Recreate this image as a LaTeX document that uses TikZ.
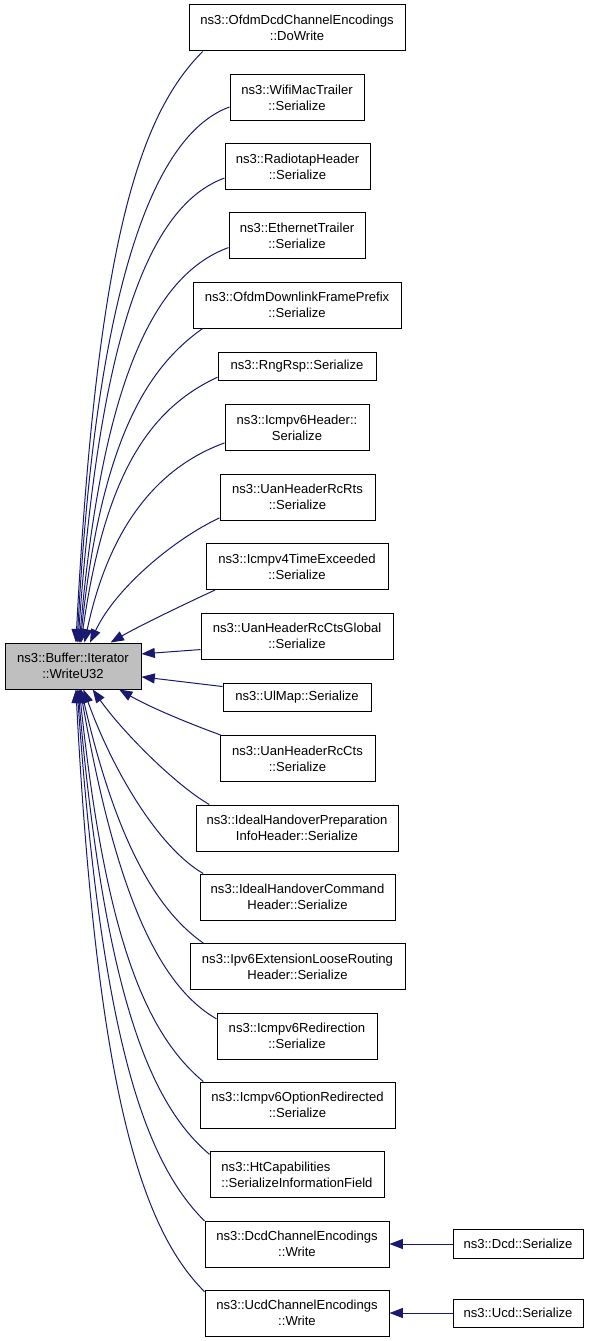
\documentclass[tikz,border=0pt]{standalone}
\usepackage{fontspec}
\setmainfont{Liberation Sans}
\usepackage{tikz}
\usepackage{xcolor}
\usetikzlibrary{shapes, arrows.meta}

\definecolor{edgeblue}{HTML}{191970}
\definecolor{callee}{HTML}{BFBFBF}

\begin{document}
\begin{tikzpicture}[x=0.75pt, y=0.75pt,
        box/.style={draw=black, fill=white, line width=0.75pt, inner sep=1pt,
            minimum width={#1*0.75pt}, minimum height=34.5pt, align=center,
            font=\fontsize{9.8pt}{12pt}\selectfont},
        edge/.style={-{Triangle[length=10pt, width=7.5pt]}, draw=edgeblue, line width=0.75pt}]
        \useasboundingbox (0,0) rectangle (592,-1341);

        \node[box=136, fill=callee] (buf) at (73,-666) {ns3::Buffer::Iterator\\::WriteU32};

        \node[box=216] (ofdmdcd) at (297,-28) {ns3::OfdmDcdChannelEncodings\\::DoWrite};
        \node[box=134] (wifi) at (297,-97.5) {ns3::WifiMacTrailer\\::Serialize};
        \node[box=145] (radiotap) at (297.5,-166.5) {ns3::RadiotapHeader\\::Serialize};
        \node[box=136] (ethernet) at (297,-235.5) {ns3::EthernetTrailer\\::Serialize};
        \node[box=208] (ofdmdl) at (297,-305) {ns3::OfdmDownlinkFramePrefix\\::Serialize};
        \node[box=158, minimum height=21pt] (rngrsp) at (297,-366) {ns3::RngRsp::Serialize};
        \node[box=144] (icmpv6h) at (297,-427.5) {ns3::Icmpv6Header::\\Serialize};
        \node[box=155] (uanrts) at (297.5,-497) {ns3::UanHeaderRcRts\\::Serialize};
        \node[box=182] (icmpv4) at (297,-566.5) {ns3::Icmpv4TimeExceeded\\::Serialize};
        \node[box=192] (uanglobal) at (297,-636) {ns3::UanHeaderRcCtsGlobal\\::Serialize};
        \node[box=148, minimum height=21pt] (ulmap) at (297,-697) {ns3::UlMap::Serialize};
        \node[box=155] (uancts) at (297.5,-758.5) {ns3::UanHeaderRcCts\\::Serialize};
        \node[box=202] (ihprep) at (297,-828) {ns3::IdealHandoverPreparation\\InfoHeader::Serialize};
        \node[box=195] (ihcmd) at (297.5,-897) {ns3::IdealHandoverCommand\\Header::Serialize};
        \node[box=215] (ipv6loose) at (297.5,-966.5) {ns3::Ipv6ExtensionLooseRouting\\Header::Serialize};
        \node[box=160] (icmpv6redir) at (297,-1036) {ns3::Icmpv6Redirection\\::Serialize};
        \node[box=195] (icmpv6opt) at (297.5,-1105) {ns3::Icmpv6OptionRedirected\\::Serialize};
        \node[box=174, align=left] (htcap) at (297,-1174.5) {ns3::HtCapabilities\\::SerializeInformationField};
        \node[box=184] (dcdch) at (297,-1244) {ns3::DcdChannelEncodings\\::Write};
        \node[box=184] (ucdch) at (297,-1313) {ns3::UcdChannelEncodings\\::Write};

        \node[box=130, minimum height=21.5pt] (dcd) at (518,-1244) {ns3::Dcd::Serialize};
        \node[box=130, minimum height=21pt] (ucd) at (518,-1313) {ns3::Ucd::Serialize};

        % callers above
        \draw[edge] (ofdmdcd.194) .. controls +(225:90) and +(87:400) .. (buf.83);
        \draw[edge] (wifi.188) .. controls +(200:80) and +(87:360) .. (buf.80);
        \draw[edge] (radiotap.189) .. controls +(200:80) and +(86:310) .. (buf.78);
        \draw[edge] (ethernet.190) .. controls +(200:80) and +(85:260) .. (buf.75);
        \draw[edge] (ofdmdl.194) .. controls +(215:70) and +(84:200) .. (buf.73);
        \draw[edge] (rngrsp.188) .. controls +(205:75) and +(82:170) .. (buf.71);
        \draw[edge] (icmpv6h.192) .. controls +(200:70) and +(78:120) .. (buf.64);
        \draw[edge] (uanrts.195) .. controls +(205:50) and +(65:60) .. (buf.54);
        \draw[edge] (icmpv4.196) .. controls +(205:35) and +(30:35) .. (buf.32);
        \draw[edge] (uanglobal.188) -- (buf.10);
        \draw[edge] (ulmap.172) -- (buf.351);

        % callers below
        \draw[edge] (uancts.163) .. controls +(160:35) and +(-30:35) .. (buf.333);
        \draw[edge] (ihprep.165) .. controls +(150:40) and +(305:50) .. (buf.310);
        \draw[edge] (ihcmd.166) .. controls +(150:50) and +(290:90) .. (buf.294);
        \draw[edge] (ipv6loose.166) .. controls +(145:60) and +(283:150) .. (buf.289);
        \draw[edge] (icmpv6redir.168) .. controls +(150:70) and +(280:200) .. (buf.287);
        \draw[edge] (icmpv6opt.166) .. controls +(140:75) and +(276:250) .. (buf.285);
        \draw[edge] (htcap.167) .. controls +(140:80) and +(275:300) .. (buf.282);
        \draw[edge] (dcdch.166) .. controls +(135:85) and +(274:350) .. (buf.280);
        \draw[edge] (ucdch.167) .. controls +(135:90) and +(273:400) .. (buf.277);

        \draw[edge] (dcd) -- (dcdch);
        \draw[edge] (ucd) -- (ucdch);
\end{tikzpicture}
\end{document}
